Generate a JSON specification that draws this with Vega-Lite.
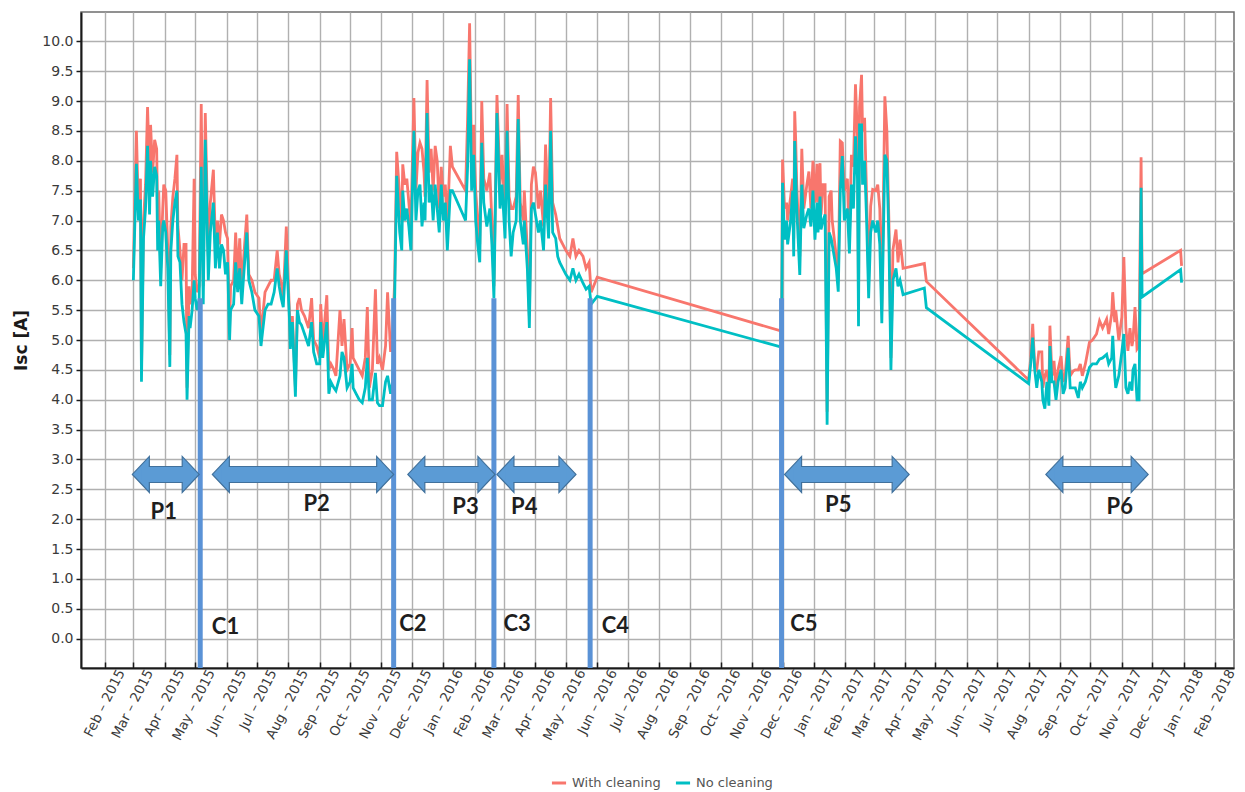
{
"$schema": "https://vega.github.io/schema/vega-lite/v6.json",
"width": 1153, "height": 656,
"autosize": {"type": "none"},
"padding": {"left": 81, "top": 12, "right": 11, "bottom": 124},
"background": "white",
"config": {"view": {"stroke": "#6e6e6e", "strokeWidth": 1.5}, "font": "DejaVu Sans",
  "axisY": {"tickCount": 22, "values": [0,0.5,1,1.5,2,2.5,3,3.5,4,4.5,5,5.5,6,6.5,7,7.5,8,8.5,9,9.5,10], "labelOverlap": false, "format": ".1f"}},
"datasets": {
"s": [
{"d":"2015-03-01","w":6.2,"n":6.0},{"d":"2015-03-04","w":8.5,"n":7.95},{"d":"2015-03-06","w":7.1,"n":7.0},{"d":"2015-03-08","w":7.7,"n":7.35},{"d":"2015-03-09","w":4.45,"n":4.3},{"d":"2015-03-11","w":7.0,"n":6.7},{"d":"2015-03-13","w":7.6,"n":7.2},{"d":"2015-03-15","w":8.9,"n":8.25},{"d":"2015-03-17","w":7.8,"n":7.1},{"d":"2015-03-18","w":8.6,"n":8.0},{"d":"2015-03-20","w":7.8,"n":7.4},{"d":"2015-03-22","w":8.35,"n":7.9},{"d":"2015-03-24","w":8.2,"n":7.75},{"d":"2015-03-25","w":7.0,"n":6.5},{"d":"2015-03-26","w":7.5,"n":7.0},{"d":"2015-03-28","w":6.2,"n":5.9},{"d":"2015-03-30","w":7.2,"n":6.9},{"d":"2015-03-31","w":7.6,"n":7.0},
{"d":"2015-04-02","w":7.5,"n":6.8},{"d":"2015-04-04","w":6.5,"n":6.2},{"d":"2015-04-06","w":4.75,"n":4.55},{"d":"2015-04-07","w":6.9,"n":6.5},{"d":"2015-04-09","w":7.4,"n":7.0},{"d":"2015-04-11","w":7.7,"n":7.3},{"d":"2015-04-13","w":8.1,"n":7.5},{"d":"2015-04-14","w":6.9,"n":6.4},{"d":"2015-04-16","w":6.5,"n":6.3},{"d":"2015-04-18","w":6.0,"n":5.6},{"d":"2015-04-20","w":6.6,"n":5.3},{"d":"2015-04-22","w":6.6,"n":5.1},{"d":"2015-04-23","w":4.2,"n":4.0},{"d":"2015-04-25","w":5.9,"n":5.4},{"d":"2015-04-26","w":5.6,"n":5.2},{"d":"2015-04-28","w":5.8,"n":5.5},{"d":"2015-04-30","w":7.7,"n":6.0},
{"d":"2015-05-01","w":6.1,"n":5.7},{"d":"2015-05-03","w":5.8,"n":5.5},{"d":"2015-05-05","w":5.9,"n":5.7},{"d":"2015-05-07","w":8.95,"n":7.9},{"d":"2015-05-09","w":5.9,"n":5.6},{"d":"2015-05-11","w":8.8,"n":8.35},{"d":"2015-05-14","w":6.4,"n":6.0},{"d":"2015-05-16","w":7.3,"n":6.8},{"d":"2015-05-19","w":7.85,"n":7.3},{"d":"2015-05-21","w":6.6,"n":6.2},{"d":"2015-05-23","w":7.0,"n":6.8},{"d":"2015-05-25","w":6.6,"n":6.2},{"d":"2015-05-27","w":7.1,"n":6.6},{"d":"2015-05-29","w":7.0,"n":6.5},{"d":"2015-05-31","w":6.8,"n":6.1},
{"d":"2015-06-02","w":6.7,"n":6.3},{"d":"2015-06-04","w":5.2,"n":5.0},{"d":"2015-06-05","w":5.9,"n":5.5},{"d":"2015-06-08","w":6.0,"n":5.6},{"d":"2015-06-10","w":6.8,"n":6.3},{"d":"2015-06-12","w":6.0,"n":5.8},{"d":"2015-06-14","w":6.7,"n":6.2},{"d":"2015-06-16","w":5.9,"n":5.6},{"d":"2015-06-18","w":6.4,"n":6.1},{"d":"2015-06-21","w":7.1,"n":6.8},{"d":"2015-06-23","w":6.1,"n":6.0},{"d":"2015-06-26","w":6.0,"n":5.8},{"d":"2015-06-29","w":5.8,"n":5.5},
{"d":"2015-07-03","w":5.7,"n":5.4},{"d":"2015-07-05","w":5.1,"n":4.9},{"d":"2015-07-09","w":5.8,"n":5.5},{"d":"2015-07-12","w":5.9,"n":5.6},{"d":"2015-07-15","w":6.0,"n":5.6},{"d":"2015-07-18","w":6.0,"n":5.8},{"d":"2015-07-21","w":6.5,"n":6.2},{"d":"2015-07-23","w":6.1,"n":5.9},{"d":"2015-07-25","w":5.95,"n":5.7},{"d":"2015-07-27","w":5.7,"n":5.55},{"d":"2015-07-30","w":6.9,"n":6.5},
{"d":"2015-08-02","w":5.5,"n":5.4},{"d":"2015-08-03","w":5.0,"n":4.85},{"d":"2015-08-05","w":5.4,"n":5.3},{"d":"2015-08-08","w":4.2,"n":4.05},{"d":"2015-08-10","w":5.6,"n":5.5},{"d":"2015-08-12","w":5.7,"n":5.3},{"d":"2015-08-14","w":5.5,"n":5.25},{"d":"2015-08-17","w":5.4,"n":5.1},{"d":"2015-08-21","w":5.2,"n":4.9},{"d":"2015-08-24","w":5.7,"n":5.3},{"d":"2015-08-26","w":5.0,"n":4.8},{"d":"2015-08-29","w":4.9,"n":4.6},
{"d":"2015-09-01","w":4.7,"n":4.6},{"d":"2015-09-02","w":5.6,"n":5.3},{"d":"2015-09-04","w":4.9,"n":4.7},{"d":"2015-09-08","w":5.75,"n":5.3},{"d":"2015-09-10","w":4.5,"n":4.1},{"d":"2015-09-12","w":4.6,"n":4.3},{"d":"2015-09-15","w":4.5,"n":4.2},{"d":"2015-09-17","w":4.4,"n":4.15},{"d":"2015-09-21","w":5.5,"n":4.4},{"d":"2015-09-23","w":4.9,"n":4.8},{"d":"2015-09-25","w":5.35,"n":4.7},{"d":"2015-09-28","w":4.5,"n":4.2},
{"d":"2015-10-01","w":4.6,"n":4.3},{"d":"2015-10-03","w":5.2,"n":4.6},{"d":"2015-10-04","w":4.7,"n":4.2},{"d":"2015-10-07","w":4.6,"n":4.1},{"d":"2015-10-10","w":4.5,"n":4.0},{"d":"2015-10-13","w":4.4,"n":3.95},{"d":"2015-10-16","w":4.7,"n":4.2},{"d":"2015-10-18","w":5.55,"n":4.7},{"d":"2015-10-20","w":4.2,"n":4.0},{"d":"2015-10-23","w":4.5,"n":4.0},{"d":"2015-10-26","w":5.85,"n":4.45},{"d":"2015-10-28","w":4.6,"n":3.95},{"d":"2015-10-30","w":4.7,"n":3.9},
{"d":"2015-11-02","w":4.5,"n":3.9},{"d":"2015-11-05","w":4.9,"n":4.3},{"d":"2015-11-07","w":5.8,"n":4.4},{"d":"2015-11-10","w":4.8,"n":4.1},{"d":"2015-11-12","w":5.1,"n":4.3},{"d":"2015-11-14","w":6.0,"n":5.7},{"d":"2015-11-16","w":8.15,"n":7.75},{"d":"2015-11-19","w":7.4,"n":6.8},{"d":"2015-11-21","w":7.0,"n":6.5},{"d":"2015-11-22","w":7.94,"n":7.5},{"d":"2015-11-24","w":7.6,"n":7.0},{"d":"2015-11-26","w":7.7,"n":7.2},{"d":"2015-11-28","w":7.3,"n":6.9},{"d":"2015-11-30","w":6.9,"n":6.5},
{"d":"2015-12-03","w":9.05,"n":8.5},{"d":"2015-12-05","w":7.5,"n":7.0},{"d":"2015-12-07","w":8.14,"n":7.5},{"d":"2015-12-09","w":8.3,"n":7.6},{"d":"2015-12-11","w":8.2,"n":6.9},{"d":"2015-12-13","w":7.8,"n":7.3},{"d":"2015-12-14","w":7.4,"n":7.0},{"d":"2015-12-16","w":9.35,"n":8.8},{"d":"2015-12-18","w":7.8,"n":7.3},{"d":"2015-12-20","w":8.2,"n":7.6},{"d":"2015-12-22","w":7.5,"n":7.0},{"d":"2015-12-24","w":8.25,"n":7.6},{"d":"2015-12-26","w":8.0,"n":7.2},{"d":"2015-12-28","w":7.2,"n":6.8},{"d":"2015-12-30","w":7.9,"n":7.6},
{"d":"2016-01-01","w":7.4,"n":7.0},{"d":"2016-01-03","w":7.6,"n":7.3},{"d":"2016-01-05","w":6.9,"n":6.5},{"d":"2016-01-08","w":8.25,"n":7.5},{"d":"2016-01-10","w":7.9,"n":7.5},{"d":"2016-01-23","w":7.5,"n":7.0},{"d":"2016-01-25","w":8.7,"n":7.9},{"d":"2016-01-27","w":10.3,"n":9.7},{"d":"2016-01-29","w":8.0,"n":7.5},{"d":"2016-01-31","w":8.6,"n":8.1},
{"d":"2016-02-02","w":7.5,"n":7.0},{"d":"2016-02-04","w":7.0,"n":6.6},{"d":"2016-02-06","w":6.6,"n":6.3},{"d":"2016-02-08","w":9.0,"n":8.3},{"d":"2016-02-10","w":7.7,"n":7.3},{"d":"2016-02-13","w":7.5,"n":6.9},{"d":"2016-02-16","w":7.8,"n":7.2},{"d":"2016-02-18","w":7.0,"n":6.6},{"d":"2016-02-20","w":5.9,"n":5.7},{"d":"2016-02-23","w":9.1,"n":8.8},{"d":"2016-02-26","w":7.6,"n":7.2},{"d":"2016-02-28","w":8.1,"n":7.6},
{"d":"2016-03-02","w":7.1,"n":6.7},{"d":"2016-03-04","w":8.95,"n":8.5},{"d":"2016-03-06","w":7.4,"n":7.0},{"d":"2016-03-08","w":7.2,"n":6.4},{"d":"2016-03-10","w":7.2,"n":6.8},{"d":"2016-03-13","w":7.4,"n":7.0},{"d":"2016-03-15","w":9.1,"n":8.7},{"d":"2016-03-17","w":7.3,"n":7.0},{"d":"2016-03-20","w":7.0,"n":6.6},{"d":"2016-03-21","w":7.5,"n":7.0},{"d":"2016-03-24","w":6.5,"n":6.2},{"d":"2016-03-26","w":5.4,"n":5.2},{"d":"2016-03-28","w":7.6,"n":7.2},{"d":"2016-03-30","w":7.9,"n":7.3},
{"d":"2016-04-01","w":7.8,"n":7.1},{"d":"2016-04-04","w":7.2,"n":6.8},{"d":"2016-04-06","w":7.5,"n":7.0},{"d":"2016-04-09","w":6.9,"n":6.5},{"d":"2016-04-11","w":8.27,"n":7.6},{"d":"2016-04-14","w":7.0,"n":6.7},{"d":"2016-04-16","w":9.05,"n":8.5},{"d":"2016-04-18","w":7.3,"n":6.8},{"d":"2016-04-21","w":7.1,"n":6.7},{"d":"2016-04-23","w":6.9,"n":6.4},{"d":"2016-04-25","w":6.7,"n":6.3},{"d":"2016-04-28","w":6.6,"n":6.2},
{"d":"2016-05-01","w":6.5,"n":6.1},{"d":"2016-05-05","w":6.4,"n":6.0},{"d":"2016-05-08","w":6.7,"n":6.2},{"d":"2016-05-11","w":6.4,"n":6.0},{"d":"2016-05-14","w":6.5,"n":6.1},{"d":"2016-05-18","w":6.4,"n":5.95},{"d":"2016-05-21","w":6.2,"n":5.85},{"d":"2016-05-24","w":6.3,"n":5.9},{"d":"2016-05-26","w":5.8,"n":5.6},{"d":"2016-06-01","w":6.05,"n":5.73},{"d":"2016-11-30","w":5.15,"n":4.88},
{"d":"2016-12-01","w":8.02,"n":7.63},{"d":"2016-12-03","w":7.2,"n":6.68},{"d":"2016-12-05","w":7.3,"n":7.0},{"d":"2016-12-06","w":7.0,"n":6.6},{"d":"2016-12-09","w":7.4,"n":7.0},{"d":"2016-12-11","w":7.7,"n":7.5},{"d":"2016-12-12","w":6.7,"n":6.4},{"d":"2016-12-13","w":8.83,"n":8.33},{"d":"2016-12-14","w":8.33,"n":7.8},{"d":"2016-12-15","w":7.6,"n":7.2},{"d":"2016-12-18","w":6.4,"n":6.09},{"d":"2016-12-20","w":8.2,"n":7.6},{"d":"2016-12-22","w":7.2,"n":6.87},{"d":"2016-12-25","w":7.6,"n":7.1},{"d":"2016-12-27","w":7.82,"n":7.2},{"d":"2016-12-29","w":7.2,"n":6.9},{"d":"2016-12-31","w":8.0,"n":7.5},
{"d":"2017-01-02","w":7.3,"n":6.68},{"d":"2017-01-04","w":7.95,"n":7.3},{"d":"2017-01-05","w":7.3,"n":6.8},{"d":"2017-01-07","w":7.96,"n":7.4},{"d":"2017-01-08","w":7.1,"n":6.85},{"d":"2017-01-10","w":7.6,"n":7.0},{"d":"2017-01-12","w":7.6,"n":7.1},{"d":"2017-01-14","w":3.8,"n":3.58},{"d":"2017-01-16","w":7.4,"n":6.8},{"d":"2017-01-18","w":7.5,"n":6.7},{"d":"2017-01-19","w":7.0,"n":6.6},{"d":"2017-01-23","w":6.4,"n":6.2},{"d":"2017-01-25","w":6.0,"n":5.81},{"d":"2017-01-27","w":8.33,"n":7.5},{"d":"2017-01-29","w":8.3,"n":8.08},{"d":"2017-01-31","w":7.5,"n":7.0},
{"d":"2017-02-03","w":7.7,"n":7.2},{"d":"2017-02-05","w":6.7,"n":6.45},{"d":"2017-02-07","w":8.1,"n":7.6},{"d":"2017-02-09","w":7.9,"n":7.2},{"d":"2017-02-11","w":9.28,"n":8.41},{"d":"2017-02-13","w":8.4,"n":7.7},{"d":"2017-02-14","w":5.5,"n":5.23},{"d":"2017-02-15","w":8.9,"n":8.6},{"d":"2017-02-17","w":9.44,"n":8.6},{"d":"2017-02-18","w":8.5,"n":7.6},{"d":"2017-02-20","w":8.72,"n":8.0},{"d":"2017-02-22","w":7.4,"n":7.0},{"d":"2017-02-24","w":6.0,"n":5.7},{"d":"2017-02-26","w":7.24,"n":6.8},{"d":"2017-02-28","w":7.52,"n":7.0},
{"d":"2017-03-03","w":7.5,"n":6.8},{"d":"2017-03-05","w":7.6,"n":7.0},{"d":"2017-03-07","w":7.2,"n":6.6},{"d":"2017-03-09","w":5.5,"n":5.28},{"d":"2017-03-12","w":9.08,"n":8.1},{"d":"2017-03-14","w":8.5,"n":8.0},{"d":"2017-03-16","w":7.0,"n":6.7},{"d":"2017-03-18","w":4.7,"n":4.5},{"d":"2017-03-20","w":6.51,"n":6.0},{"d":"2017-03-23","w":6.85,"n":6.2},{"d":"2017-03-25","w":6.3,"n":5.9},{"d":"2017-03-27","w":6.68,"n":6.0},{"d":"2017-03-30","w":6.2,"n":5.76},{"d":"2017-04-20","w":6.28,"n":5.87},{"d":"2017-04-22","w":5.98,"n":5.54},
{"d":"2017-08-01","w":4.33,"n":4.27},{"d":"2017-08-03","w":4.7,"n":4.6},{"d":"2017-08-05","w":5.27,"n":5.04},{"d":"2017-08-07","w":4.55,"n":4.5},{"d":"2017-08-09","w":4.5,"n":4.2},{"d":"2017-08-11","w":4.8,"n":4.5},{"d":"2017-08-14","w":4.8,"n":4.3},{"d":"2017-08-15","w":4.2,"n":4.0},{"d":"2017-08-17","w":4.4,"n":3.85},{"d":"2017-08-19","w":4.5,"n":4.3},{"d":"2017-08-21","w":4.2,"n":3.9},{"d":"2017-08-22","w":5.24,"n":4.9},{"d":"2017-08-24","w":4.4,"n":4.3},{"d":"2017-08-26","w":4.65,"n":4.3},{"d":"2017-08-28","w":4.2,"n":4.0},{"d":"2017-08-30","w":4.5,"n":4.3},
{"d":"2017-09-02","w":4.73,"n":4.5},{"d":"2017-09-04","w":4.3,"n":4.1},{"d":"2017-09-06","w":4.4,"n":4.2},{"d":"2017-09-09","w":5.07,"n":4.87},{"d":"2017-09-11","w":4.4,"n":4.2},{"d":"2017-09-14","w":4.48,"n":4.2},{"d":"2017-09-16","w":4.5,"n":4.2},{"d":"2017-09-19","w":4.5,"n":4.03},{"d":"2017-09-21","w":4.6,"n":4.3},{"d":"2017-09-23","w":4.4,"n":4.2},{"d":"2017-09-26","w":4.6,"n":4.3},{"d":"2017-09-30","w":4.96,"n":4.54},
{"d":"2017-10-03","w":5.0,"n":4.6},{"d":"2017-10-07","w":5.1,"n":4.6},{"d":"2017-10-10","w":5.32,"n":4.68},{"d":"2017-10-13","w":5.2,"n":4.7},{"d":"2017-10-17","w":5.35,"n":4.76},{"d":"2017-10-19","w":5.1,"n":4.6},{"d":"2017-10-22","w":5.44,"n":4.7},{"d":"2017-10-23","w":5.8,"n":5.07},{"d":"2017-10-25","w":5.3,"n":4.4},{"d":"2017-10-26","w":5.5,"n":4.2},{"d":"2017-10-29","w":5.0,"n":4.4},
{"d":"2017-11-01","w":5.38,"n":4.8},{"d":"2017-11-03","w":6.39,"n":5.1},{"d":"2017-11-05","w":5.2,"n":4.2},{"d":"2017-11-07","w":4.82,"n":4.1},{"d":"2017-11-09","w":5.2,"n":4.3},{"d":"2017-11-11","w":4.9,"n":4.15},{"d":"2017-11-12","w":5.0,"n":4.5},{"d":"2017-11-14","w":5.55,"n":4.6},{"d":"2017-11-16","w":4.85,"n":4.0},{"d":"2017-11-18","w":4.9,"n":4.0},{"d":"2017-11-20","w":8.06,"n":7.55},{"d":"2017-11-21","w":6.11,"n":5.72},{"d":"2017-12-29","w":6.5,"n":6.18},{"d":"2017-12-30","w":6.24,"n":5.96}
],
"c": [{"d":"2015-05-06"},{"d":"2015-11-13"},{"d":"2016-02-20"},{"d":"2016-05-25"},{"d":"2016-11-30"}],
"p": [{"a":"2015-02-28","b":"2015-05-05"},{"a":"2015-05-18","b":"2015-11-13"},{"a":"2015-11-27","b":"2016-02-21"},{"a":"2016-02-23","b":"2016-05-11"},{"a":"2016-12-03","b":"2017-04-05"},{"a":"2017-08-18","b":"2017-11-27"}],
"t": [{"t":"P1","d":"2015-03-31","v":2.12},{"t":"P2","d":"2015-08-29","v":2.25},{"t":"P3","d":"2016-01-23","v":2.2},{"t":"P4","d":"2016-03-21","v":2.2},{"t":"P5","d":"2017-01-25","v":2.23},{"t":"P6","d":"2017-10-30","v":2.2},{"t":"C1","d":"2015-05-31","v":0.19},{"t":"C2","d":"2015-12-02","v":0.24},{"t":"C3","d":"2016-03-14","v":0.24},{"t":"C4","d":"2016-06-19","v":0.21},{"t":"C5","d":"2016-12-22","v":0.25}]
},
"layer": [
{"data": {"name": "s"},
 "mark": {"type": "line", "strokeWidth": 2.8},
 "encoding": {
  "x": {"field": "d", "type": "temporal", "title": null,
    "scale": {"type": "utc", "domain": [{"year": 2015, "month": 1, "date": 8, "hours": 7, "utc": true}, {"year": 2018, "month": 2, "date": 19, "hours": 18, "utc": true}]},
    "axis": {"title": null, "format": "%b – %Y", "tickCount": {"interval": "month", "step": 1},
      "labelAngle": -63, "labelAlign": "right", "labelBaseline": "middle", "labelOffset": 16, "labelPadding": 8,
      "labelOverlap": false, "labelBound": false, "labelFlush": false,
      "labelFont": "DejaVu Sans", "labelFontSize": 13.5, "labelColor": "#3a3a3a",
      "grid": true, "gridColor": "#b0b0b0", "gridWidth": 1.4,
      "domainColor": "#1a1a1a", "domainWidth": 2, "tickColor": "#1a1a1a", "tickSize": -6, "tickWidth": 1.5}},
  "y": {"field": "w", "type": "quantitative", "title": "Isc [A]",
    "scale": {"domain": [-0.49, 10.49], "nice": false, "zero": false},
    "axis": {"title": "Isc [A]", "values": [0,0.5,1,1.5,2,2.5,3,3.5,4,4.5,5,5.5,6,6.5,7,7.5,8,8.5,9,9.5,10], "tickCount": 22, "format": ".1f", "labelOverlap": false,
      "labelFont": "DejaVu Sans", "labelFontSize": 14, "labelColor": "#3a3a3a", "labelPadding": 3,
      "tickSize": 5, "tickColor": "#1a1a1a", "tickWidth": 1.5,
      "grid": true, "gridColor": "#b0b0b0", "gridWidth": 1.4,
      "domainColor": "#1a1a1a", "domainWidth": 2,
      "titleFont": "DejaVu Sans", "titleFontWeight": "bold", "titleFontSize": 17, "titleColor": "#1a1a1a",
      "titleX": -60, "titleY": 328, "titleAngle": -90, "titleAlign": "center", "titleBaseline": "middle"}},
  "color": {"datum": "With cleaning",
    "scale": {"domain": ["With cleaning", "No cleaning"], "range": ["#F8766D", "#00BFC4"]},
    "legend": {"title": null, "orient": "none", "legendX": 469, "legendY": 762, "direction": "horizontal",
      "symbolType": "stroke", "symbolSize": 200, "symbolStrokeWidth": 3,
      "labelFont": "DejaVu Sans", "labelFontSize": 13, "labelColor": "#555555", "labelOffset": 4, "columnPadding": 8, "padding": 0}}
 }},
{"data": {"name": "s"},
 "mark": {"type": "line", "strokeWidth": 2.8},
 "encoding": {
  "x": {"field": "d", "type": "temporal", "title": null},
  "y": {"field": "n", "type": "quantitative", "title": "Isc [A]"},
  "color": {"datum": "No cleaning"}
 }},
{"data": {"name": "c"},
 "mark": {"type": "rule", "strokeWidth": 5, "color": "#5a92d6"},
 "encoding": {
  "x": {"field": "d", "type": "temporal", "title": null},
  "y": {"datum": -0.49},
  "y2": {"datum": 5.7}
 }},
{"data": {"name": "p"},
 "mark": {"type": "rule", "strokeWidth": 17, "color": "#41719c", "xOffset": 12, "x2Offset": -12},
 "encoding": {
  "x": {"field": "a", "type": "temporal", "title": null},
  "x2": {"field": "b"},
  "y": {"datum": 2.75}
 }},
{"data": {"name": "p"},
 "mark": {"type": "point", "shape": "M0,0L0.944,-1L0.944,1Z", "size": 1296, "filled": true, "fill": "#5b9bd5", "stroke": "#41719c", "strokeWidth": 1.2, "opacity": 1},
 "encoding": {
  "x": {"field": "a", "type": "temporal", "title": null},
  "y": {"datum": 2.75}
 }},
{"data": {"name": "p"},
 "mark": {"type": "point", "shape": "M0,0L-0.944,-1L-0.944,1Z", "size": 1296, "filled": true, "fill": "#5b9bd5", "stroke": "#41719c", "strokeWidth": 1.2, "opacity": 1},
 "encoding": {
  "x": {"field": "b", "type": "temporal", "title": null},
  "y": {"datum": 2.75}
 }},
{"data": {"name": "p"},
 "mark": {"type": "rule", "strokeWidth": 15, "color": "#5b9bd5", "xOffset": 9, "x2Offset": -9},
 "encoding": {
  "x": {"field": "a", "type": "temporal", "title": null},
  "x2": {"field": "b"},
  "y": {"datum": 2.75}
 }},
{"data": {"name": "t"},
 "mark": {"type": "text", "font": "Lato", "fontWeight": "bold", "fontSize": 22, "color": "#1e1e1e", "align": "center", "baseline": "middle"},
 "encoding": {
  "x": {"field": "d", "type": "temporal", "title": null},
  "y": {"field": "v", "type": "quantitative", "title": "Isc [A]"},
  "text": {"field": "t"}
 }}
]
}
